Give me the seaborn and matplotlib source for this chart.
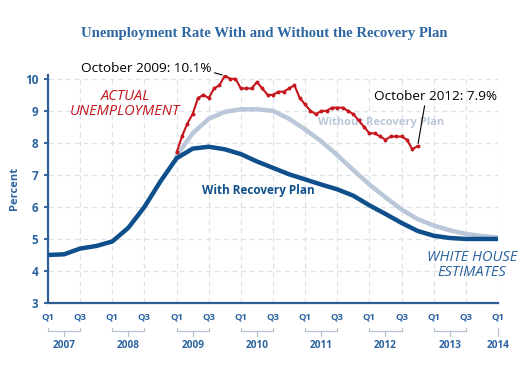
import numpy as np
import pandas as pd
import matplotlib
matplotlib.use("Agg")
import matplotlib.pyplot as plt
import seaborn as sns

# ---- data ----
quarters = [f"{y} Q{q}" for y in range(2007, 2014) for q in (1, 2, 3, 4)] + ["2014 Q1"]
with_plan = [4.50, 4.52, 4.70, 4.78, 4.92, 5.35, 6.00, 6.80, 7.52, 7.82, 7.88, 7.80,
             7.65, 7.42, 7.22, 7.02, 6.86, 6.70, 6.55, 6.35, 6.05, 5.78, 5.50, 5.25,
             5.10, 5.03, 5.00, 5.00, 5.00]
without_quarters = quarters[8:]
without_plan = [7.60, 8.30, 8.75, 8.97, 9.05, 9.05, 9.00, 8.75, 8.42, 8.05, 7.62, 7.15,
                6.70, 6.30, 5.92, 5.62, 5.42, 5.27, 5.16, 5.09, 5.05]
actual_months = pd.date_range("2009-01", "2012-10", freq="MS")
actual = [7.7, 8.2, 8.6, 8.9, 9.4, 9.5, 9.4, 9.7, 9.8, 10.1, 10.0, 10.0,
          9.7, 9.7, 9.7, 9.9, 9.7, 9.5, 9.5, 9.6, 9.6, 9.7, 9.8, 9.4,
          9.2, 9.0, 8.9, 9.0, 9.0, 9.1, 9.1, 9.1, 9.0, 8.9, 8.7, 8.5,
          8.3, 8.3, 8.2, 8.1, 8.2, 8.2, 8.2, 8.1, 7.8, 7.9]
q_labels = ["Q1", "Q3"] * 7 + ["Q1"]
years = ["2007", "2008", "2009", "2010", "2011", "2012", "2013", "2014"]
yticks = [3, 4, 5, 6, 7, 8, 9, 10]


def qpos(label):
    y, q = label.split(" Q")
    return (int(y) - 2007) * 4 + int(q) - 1


df_with = pd.DataFrame({"x": [qpos(q) for q in quarters], "y": with_plan})
df_without = pd.DataFrame({"x": [qpos(q) for q in without_quarters], "y": without_plan})
df_actual = pd.DataFrame({"x": [((d.year - 2007) * 12 + d.month - 1) / 3 for d in actual_months],
                          "y": actual})

DARK = "#0f4f8c"
LIGHT = "#b9c7d9"
RED = "#c4161c"
TXT = "#2a63a0"
BRK = "#b7c2d0"

sns.set_theme(style="white")
plt.rcParams["font.family"] = ["Open Sans", "DejaVu Sans"]

fig = plt.figure(figsize=(5.26, 3.73), dpi=100)
AX_H = 303 - 75
ax = fig.add_axes([48 / 526, 1 - 303 / 373, 450 / 526, AX_H / 373])

ax.set_xlim(0, 28)
ax.set_ylim(3, 10.12)

# grid
for gx in range(2, 29, 2):
    ax.axvline(gx, color="#dde2e9", lw=0.9, ls=(0, (4, 3)), zorder=0)
for gy in yticks[1:]:
    ax.axhline(gy, color="#dde2e9", lw=0.9, ls=(0, (4, 3)), zorder=0)

ax.text(20.7, 8.63, "Without Recovery Plan", color=LIGHT, fontsize=8, fontweight="bold",
        ha="center", va="center", zorder=1)

sns.lineplot(data=df_without, x="x", y="y", ax=ax, color=LIGHT, lw=3.2, zorder=2)
sns.lineplot(data=df_with, x="x", y="y", ax=ax, color=DARK, lw=3.2, zorder=3)
sns.lineplot(data=df_actual, x="x", y="y", ax=ax, color=RED, lw=1.5, marker="o",
             markersize=2.8, markeredgewidth=0, zorder=4)

ax.set_xlabel("")
ax.set_ylabel("Percent", color=TXT, fontsize=8, fontweight="bold")
ax.yaxis.set_label_coords((20 - 48) / 450, 0.5)

ax.set_yticks(yticks)
ax.set_yticklabels([str(v) for v in yticks], color=TXT, fontsize=8.5, fontweight="bold")
ax.set_xticks(range(0, 29, 2))
ax.set_xticklabels(q_labels, color=TXT, fontsize=6.8, fontweight="bold")
ax.tick_params(axis="x", length=0, pad=7)
ax.tick_params(axis="y", length=3, color=DARK, width=1.2, pad=4, direction="out", left=True)

for s in ["top", "right"]:
    ax.spines[s].set_visible(False)
for s in ["left", "bottom"]:
    ax.spines[s].set_color("#2d5f94")
    ax.spines[s].set_linewidth(1.6)


def ay(py):
    """pixel row -> axes fraction"""
    return -(py - 303) / AX_H


tr = ax.get_xaxis_transform()
for i, yr in enumerate(years):
    x0 = i * 4
    if yr != "2014":
        ax.plot([x0, x0, x0 + 2, x0 + 2], [ay(328), ay(331), ay(331), ay(328)], transform=tr,
                color=BRK, lw=0.9, clip_on=False)
        ax.plot([x0 + 1, x0 + 1], [ay(331), ay(336)], transform=tr,
                color=BRK, lw=0.9, clip_on=False)
        xc = x0 + 1
    else:
        ax.plot([x0, x0], [ay(328), ay(336)], transform=tr, color=BRK, lw=0.9, clip_on=False)
        xc = x0
    ax.text(xc, ay(345), yr, transform=tr, ha="center", va="center",
            color=TXT, fontsize=7.2, fontweight="bold")

# annotations
ax.annotate("October 2009: 10.1%", xy=(df_actual.x[9], 10.1), xytext=(146 / 526, 1 - 68 / 373),
            textcoords="figure fraction", ha="center", va="center", fontsize=9.7, color="black",
            arrowprops=dict(arrowstyle="-", color="black", lw=0.8, shrinkA=0, shrinkB=2,
                            relpos=(1.0, 0.2)))
ax.annotate("October 2012: 7.9%", xy=(df_actual.x[45], 7.9), xytext=(435 / 526, 1 - 96 / 373),
            textcoords="figure fraction", ha="center", va="center", fontsize=9.7, color="black",
            arrowprops=dict(arrowstyle="-", color="black", lw=0.8, shrinkA=0, shrinkB=2,
                            relpos=(0.42, 0.0)))

fig.text(125 / 526, 1 - 104 / 373, "ACTUAL\nUNEMPLOYMENT", color=RED, fontsize=10.5,
         style="italic", ha="center", va="center", linespacing=1.0)
fig.text(472 / 526, 1 - 265 / 373, "WHITE HOUSE\nESTIMATES", color=TXT, fontsize=10.5,
         style="italic", ha="center", va="center", multialignment="center", linespacing=1.0)
ax.text(13.1, 6.52, "With Recovery Plan", color=DARK, fontsize=8.5, fontweight="bold",
        ha="center", va="center")

fig.text(264 / 526, 1 - 33 / 373, "Unemployment Rate With and Without the Recovery Plan",
         family=["Liberation Serif", "DejaVu Serif"], fontweight="bold", fontsize=10.6,
         color="#2f67a3", ha="center", va="center")

fig.savefig("out.png", dpi=100, facecolor="white")
